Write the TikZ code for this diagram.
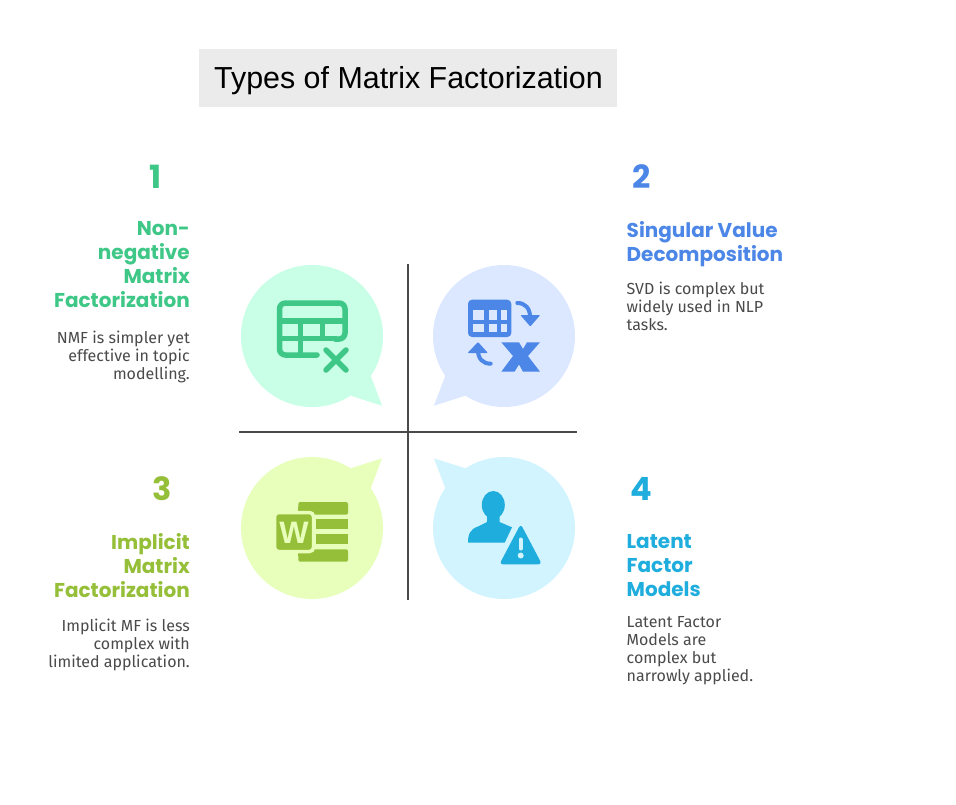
\documentclass[tikz,border=0pt]{standalone}
\usepackage{fontspec}
\setmainfont{Liberation Sans}
\newfontfamily\handfont{Fira Sans}
\newfontfamily\headfont{Poppins}
\definecolor{greenink}{HTML}{3EC786}
\definecolor{greenpale}{HTML}{C8FFE6}
\definecolor{blueink}{HTML}{4C87E8}
\definecolor{bluepale}{HTML}{DBE8FF}
\definecolor{limeink}{HTML}{95BF38}
\definecolor{limepale}{HTML}{E8FFBC}
\definecolor{cyanink}{HTML}{1FADDD}
\definecolor{cyanpale}{HTML}{D2F4FF}
\definecolor{bodyink}{HTML}{4A4A4A}
\begin{document}
\begin{tikzpicture}[x=1pt, y=-1pt,
  titlebox/.style={fill=black!8, minimum width=418pt, minimum height=58pt, inner sep=0pt},
  numlabel/.style={font=\headfont\bfseries\fontsize{32}{32}\selectfont, inner sep=0pt},
  headlabel/.style={font=\headfont\bfseries\fontsize{20}{24}\selectfont, inner sep=0pt},
  bodylabel/.style={font=\handfont\fontsize{16}{18}\selectfont, text=bodyink, inner sep=0pt},
  crossline/.style={draw=bodyink, line width=2pt}]
  \useasboundingbox (0,0) rectangle (956,804);
  \fill[white] (0,0) rectangle (956,804);

  % title
  \node[titlebox] (titlebar) at (408,78) {};
  \node[anchor=west, font=\fontsize{30.4}{31}\selectfont, inner sep=0pt] (titletext) at (214,81) {Types of Matrix Factorization};

  % bubbles
  \fill[greenpale] (312,336) circle (71);
  \fill[greenpale] (370.7,375.7) -- (382,405.7) -- (350.7,395.7) -- (340,370) -- cycle;
  \fill[bluepale] (504,336) circle (71);
  \fill[bluepale] (445.3,375.7) -- (434,405.7) -- (465.3,395.7) -- (476,370) -- cycle;
  \fill[limepale] (312,528) circle (71);
  \fill[limepale] (370.7,488.3) -- (382,458.3) -- (350.7,468.3) -- (340,494) -- cycle;
  \fill[cyanpale] (504,528) circle (71);
  \fill[cyanpale] (445.3,488.3) -- (434,458.3) -- (465.3,468.3) -- (476,494) -- cycle;

  % cross
  \coordinate (crosstop) at (408,264);
  \coordinate (crossbottom) at (408,600);
  \coordinate (crossleft) at (239,432);
  \coordinate (crossright) at (577,432);
  \draw[crossline] (crosstop) -- (crossbottom);
  \draw[crossline] (crossleft) -- (crossright);

  % table icon
  \draw[greenink, line width=5.5pt, line cap=round, rounded corners=6pt] (317,355) -- (279.5,355) -- (279.5,303) -- (345,303) -- (345,339) -- (335,339);
  \draw[greenink, line width=5.5pt] (279.5,321) -- (345,321);
  \draw[greenink, line width=5.5pt] (279.5,338.5) -- (337,338.5);
  \draw[greenink, line width=5.5pt] (300.5,321) -- (300.5,355);
  \draw[greenink, line width=5.5pt] (322.5,321) -- (322.5,338.5);
  \draw[greenink, line width=5.5pt, line cap=round] (326,350) -- (346,370);
  \draw[greenink, line width=5.5pt, line cap=round] (346,350) -- (326,370);

  % swap icon
  \fill[blueink, rounded corners=4pt] (468,299.7) rectangle (511.3,337);
  \fill[bluepale] (472.7,310.3) rectangle (484,319.7);
  \fill[bluepale] (488.7,310.3) rectangle (496.7,319.7);
  \fill[bluepale] (500.7,310.3) rectangle (507.3,319.7);
  \fill[bluepale] (472.7,323.7) rectangle (484,332.3);
  \fill[bluepale] (488.7,323.7) rectangle (496.7,332.3);
  \fill[bluepale] (500.7,323.7) rectangle (507.3,332.3);
  \draw[blueink, line width=4pt, line cap=round] (517.3,303) .. controls (525,303) and (530,308) .. (530,317);
  \fill[blueink, rounded corners=1pt] (520.3,315) -- (540.3,315) -- (530.3,326.5) -- cycle;
  \draw[blueink, line width=4pt, line cap=round] (490.7,363.7) .. controls (483,363.7) and (478,359) .. (478,350);
  \fill[blueink, rounded corners=1pt] (467.5,353) -- (488,353) -- (478,342) -- cycle;
  \fill[blueink] (501.3,342.3) -- (519,342.3) -- (523,349) -- (527,342.3) -- (540,342.3) -- (528,356) -- (540,371.7) -- (523,371.7) -- (519,364.5) -- (514.5,371.7) -- (501.3,371.7) -- (513,356) -- cycle;

  % word icon
  \fill[limeink, rounded corners=2pt] (298.3,502) rectangle (348,514.7);
  \fill[limeink] (316,519.3) rectangle (348,529.3);
  \fill[limeink] (316,534.3) rectangle (348,544.3);
  \fill[limeink, rounded corners=2pt] (298.3,549.3) rectangle (348,561.7);
  \fill[limeink] (298.3,507) rectangle (312,514.7);
  \fill[limeink] (298.3,549.3) rectangle (312,556);
  \draw[limepale, line width=3.5pt, fill=limeink, rounded corners=4pt] (274.5,512.5) rectangle (313.5,551.5);
  \node[font=\bfseries\fontsize{31}{31}\selectfont, text=limepale, inner sep=0pt] (wordletter) at (294,532.5) {W};

  % user icon
  \fill[cyanink] (493.3,505) ellipse (11.5 and 14);
  \fill[cyanink] (487,514) -- (499.5,514) -- (499.5,522) -- (512,527.3) -- (504.7,542.7) -- (468,542.7) .. controls (468,533) and (471,529) .. (478,526.5) -- (487,522) -- cycle;
  \fill[cyanink, rounded corners=3.5pt] (520.7,524) -- (542,564.3) -- (499.4,564.3) -- cycle;
  \draw[cyanpale, line width=4pt, line cap=round] (520.7,539.5) -- (520.7,548.5);
  \fill[cyanpale] (520.7,555.5) circle (3);

  % texts
  \node[numlabel, text=greenink] (numone) at (156,177) {1};
  \node[headlabel, text=greenink, anchor=north east, align=right] (headone) at (190,221) {Non-\\negative\\Matrix\\Factorization};
  \node[bodylabel, anchor=north east, align=right] (bodyone) at (190,331) {NMF is simpler yet\\effective in topic\\modelling.};

  \node[numlabel, text=blueink] (numtwo) at (642,177) {2};
  \node[headlabel, text=blueink, anchor=north west, align=left] (headtwo) at (626.5,221) {Singular Value\\Decomposition};
  \node[bodylabel, anchor=north west, align=left] (bodytwo) at (626.5,282) {SVD is complex but\\widely used in NLP\\tasks.};

  \node[numlabel, text=limeink] (numthree) at (162,489) {3};
  \node[headlabel, text=limeink, anchor=north east, align=right] (headthree) at (190,533) {Implicit\\Matrix\\Factorization};
  \node[bodylabel, anchor=north east, align=right] (bodythree) at (190,619) {Implicit MF is less\\complex with\\limited application.};

  \node[numlabel, text=cyanink] (numfour) at (641,489) {4};
  \node[headlabel, text=cyanink, anchor=north west, align=left] (headfour) at (626.5,534) {Latent\\Factor\\Models};
  \node[bodylabel, anchor=north west, align=left] (bodyfour) at (626.5,616) {Latent Factor\\Models are\\complex but\\narrowly applied.};
\end{tikzpicture}
\end{document}
